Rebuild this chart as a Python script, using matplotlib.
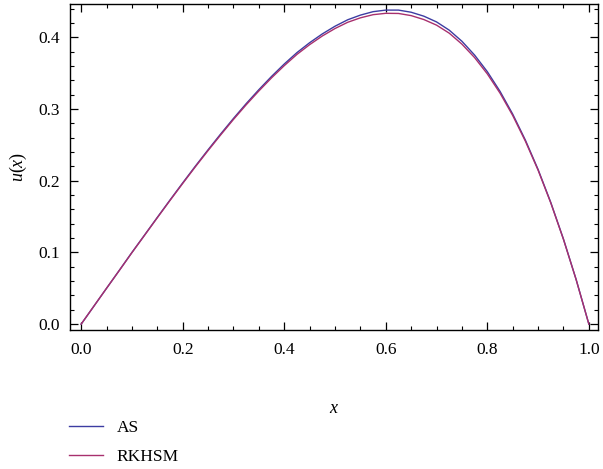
import matplotlib
matplotlib.use("Agg")
import matplotlib.pyplot as plt
from matplotlib.ticker import MultipleLocator

# values
x_vals = [0.0, 0.025, 0.05, 0.075, 0.1, 0.125, 0.15, 0.175, 0.2, 0.225,
          0.25, 0.275, 0.3, 0.325, 0.35, 0.375, 0.4, 0.425, 0.45, 0.475,
          0.5, 0.525, 0.55, 0.575, 0.6, 0.625, 0.65, 0.675, 0.7, 0.725,
          0.75, 0.775, 0.8, 0.825, 0.85, 0.875, 0.9, 0.925, 0.95, 0.975, 1.0]
as_vals = [0.0, 0.025, 0.050, 0.0749, 0.1000, 0.1244, 0.1489, 0.1731, 0.1970, 0.2204,
           0.2432, 0.2654, 0.2869, 0.3075, 0.3270, 0.3455, 0.3628, 0.3787, 0.3925, 0.4048,
           0.4155, 0.4245, 0.4310, 0.4358, 0.4380, 0.4380, 0.4350, 0.4295, 0.4215, 0.4100,
           0.3945, 0.3752, 0.3521, 0.3247, 0.2929, 0.2566, 0.2157, 0.1697, 0.1186, 0.0621, 0.0]
rkhsm_vals = [0.0, 0.025, 0.050, 0.0747, 0.0997, 0.1240, 0.1484, 0.1725, 0.1962, 0.2195,
              0.2421, 0.2641, 0.2855, 0.3059, 0.3252, 0.3435, 0.3605, 0.3762, 0.3898, 0.4019,
              0.4123, 0.4210, 0.4272, 0.4316, 0.4335, 0.4333, 0.4303, 0.4248, 0.4170, 0.4058,
              0.3905, 0.3717, 0.3490, 0.3222, 0.2910, 0.2551, 0.2147, 0.1690, 0.1181, 0.0619, 0.0]

plt.rcParams['font.family'] = ['Liberation Serif', 'DejaVu Serif']
plt.rcParams['mathtext.fontset'] = 'custom'
plt.rcParams['mathtext.it'] = 'Liberation Serif:italic'
plt.rcParams['mathtext.rm'] = 'Liberation Serif'

fig = plt.figure(figsize=(6.03, 4.69), dpi=100)
ax = fig.add_axes([70 / 603, 1 - 330 / 469, 528 / 603, 326 / 469])

ax.plot(x_vals, as_vals, color='#3c3ca2', lw=1.0, label='AS')
ax.plot(x_vals, rkhsm_vals, color='#a8306e', lw=1.0, label='RKHSM')

ax.set_xlim(-0.022, 1.018)
ax.set_ylim(-0.0082, 0.4465)
ax.xaxis.set_major_locator(MultipleLocator(0.2))
ax.xaxis.set_minor_locator(MultipleLocator(0.05))
ax.yaxis.set_major_locator(MultipleLocator(0.1))
ax.yaxis.set_minor_locator(MultipleLocator(0.02))
ax.tick_params(which='both', direction='in', top=True, right=True, labelsize=12.5)
ax.tick_params(which='major', length=6, width=0.9)
ax.tick_params(which='minor', length=3, width=0.8)
ax.tick_params(axis='x', which='major', pad=9)
ax.tick_params(axis='y', which='major', pad=7)
for s in ax.spines.values():
    s.set_linewidth(1.0)

ax.set_xlabel('$x$', fontsize=13, labelpad=30)
ax.set_ylabel('$u(x)$', fontsize=13, labelpad=7)

fig.legend(loc='upper left', bbox_to_anchor=(53 / 603, 1 - 404 / 469), frameon=False,
           fontsize=12.5, handlelength=2.0, handletextpad=0.75, labelspacing=0.75)

fig.savefig('out.png', dpi=100)
